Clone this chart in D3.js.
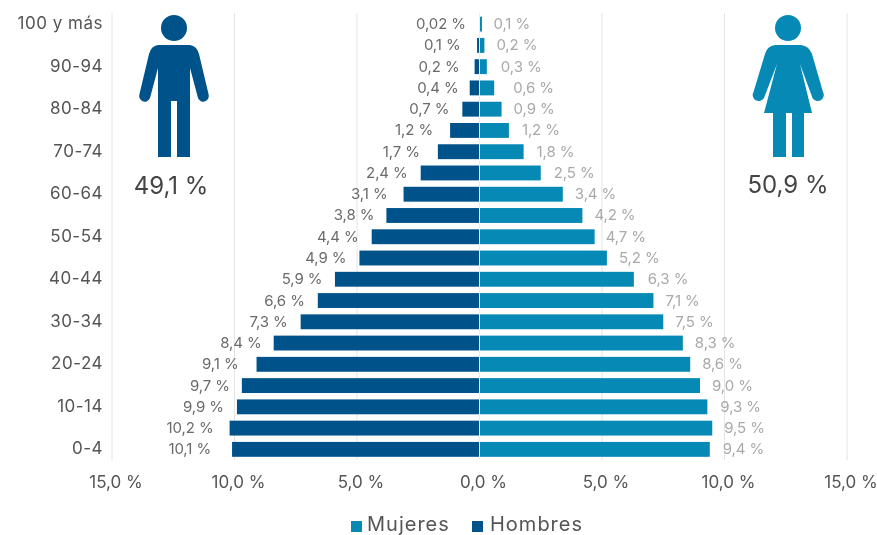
<!DOCTYPE html>
<html><head><meta charset="utf-8">
<script src="https://cdn.jsdelivr.net/npm/d3@7/dist/d3.min.js"></script>
<style>html,body{margin:0;background:#fff}svg{display:block;filter:blur(.55px)}text{font-family:Inter,"Open Sans",sans-serif}</style>
</head><body><svg id="c" width="877" height="535"></svg>
<script>
const ageGroups=["0-4","5-9","10-14","15-19","20-24","25-29","30-34","35-39","40-44","45-49","50-54","55-59","60-64","65-69","70-74","75-79","80-84","85-89","90-94","95-99","100 y más"];
const hombres=[10.1,10.2,9.9,9.7,9.1,8.4,7.3,6.6,5.9,4.9,4.4,3.8,3.1,2.4,1.7,1.2,0.7,0.4,0.2,0.1,0.02];
const mujeres=[9.4,9.5,9.3,9.0,8.6,8.3,7.5,7.1,6.3,5.2,4.7,4.2,3.4,2.5,1.8,1.2,0.9,0.6,0.3,0.2,0.1];
const ageTicks=["0-4","10-14","20-24","30-34","40-44","50-54","60-64","70-74","80-84","90-94","100 y más"];
const xTicks=[-15,-10,-5,0,5,10,15];
const totals={hombres:"49,1 %",mujeres:"50,9 %"};
// hand-placed label gaps in the original (layout only, not data)
const gapsHombres=[21,16,13,12,18,12,13,13,12.5,13,13,12,16,13,18,17,13,11,15,16.5,13];
const gapsMujeres=[13,12,13,12,12,12,12,12,14,12,11,12,12,13,13,13,12,19,14,12,11.5];
const colM="#00528a",colW="#0689b4",grey="#555";
const svg=d3.select("#c");
const x=d3.scaleLinear().domain([-15,15]).range([112,847]);
const y=d3.scaleBand().domain(ageGroups.slice().reverse()).range([13.5,460]).paddingInner(.3).paddingOuter(.15);
const fmt=v=>(v<0.1?v.toFixed(2):v.toFixed(1)).replace(".",",")+" %";
// grid
svg.append("g").selectAll("line").data(xTicks).join("line")
 .attr("x1",d=>x(d)).attr("x2",d=>x(d)).attr("y1",13).attr("y2",460)
 .attr("stroke","#e4e4e4").attr("stroke-width",1);
// bars
svg.append("g").selectAll("rect").data(hombres).join("rect")
 .attr("x",d=>x(-d)).attr("width",d=>Math.max(x(0)-x(-d),1)).attr("y",(d,i)=>y(ageGroups[i])).attr("height",y.bandwidth()).attr("fill",colM);
svg.append("g").selectAll("rect").data(mujeres).join("rect")
 .attr("x",x(0)).attr("width",d=>x(d)-x(0)).attr("y",(d,i)=>y(ageGroups[i])).attr("height",y.bandwidth()).attr("fill",colW);
svg.append("line").attr("x1",x(0)).attr("x2",x(0)).attr("y1",13).attr("y2",460).attr("stroke","#e8eef2").attr("stroke-width",1);
// value labels
const yc=i=>y(ageGroups[i])+y.bandwidth()/2+5;
svg.append("g").selectAll("text").data(hombres).join("text")
 .attr("x",(d,i)=>x(-d)-gapsHombres[i]).attr("y",(d,i)=>yc(i)).attr("text-anchor","end").attr("font-size",15).attr("letter-spacing","-.1").attr("fill","#6a6a6a").text(fmt);
svg.append("g").selectAll("text").data(mujeres).join("text")
 .attr("x",(d,i)=>x(d)+gapsMujeres[i]).attr("y",(d,i)=>yc(i)).attr("text-anchor","start").attr("font-size",15).attr("letter-spacing","-.1").attr("fill","#a9a9a9").text(fmt);
// axes
const ya=d3.axisLeft(y).tickValues(ageTicks).tickSize(0).tickPadding(0);
const gy=svg.append("g").attr("transform","translate(103,-.5)").call(ya);
gy.select(".domain").remove();
gy.selectAll("text").attr("font-size",17).attr("letter-spacing",".5").attr("fill",grey).style("font-family","Inter");
const xa=d3.axisBottom(x).tickValues(xTicks).tickSize(0).tickPadding(0).tickFormat(d=>Math.abs(d).toFixed(1).replace(".",",")+" %");
const gx=svg.append("g").attr("transform","translate(3.500,475.500)").call(xa);
gx.select(".domain").remove();
gx.selectAll("text").attr("font-size",17).attr("fill",grey).style("font-family","Inter");
// figures
const man=svg.append("g").attr("fill",colM);
man.append("circle").attr("cx",174).attr("cy",28).attr("r",13);
man.append("path").attr("d","M158 45H190Q197 46 199 54L208.500 94A5.600 5.600 0 0 1 198 98L190 68V157H177V101H171V157H158V68L150 98A5.600 5.600 0 0 1 139.500 94L149 54Q151 46 158 45Z");
const wom=svg.append("g").attr("fill",colW);
wom.append("circle").attr("cx",788).attr("cy",28).attr("r",13);
wom.append("path").attr("d","M775 45H801Q809 46 812 54L823 92A5.600 5.600 0 0 1 812.500 98L800 64L812 113H804V157H792V113H786V157H773V113H764L777 64L764 98A5.600 5.600 0 0 1 753.500 92L765 54Q767 46 775 45Z");
svg.append("text").attr("x",171).attr("y",194).attr("text-anchor","middle").attr("font-size",24).attr("fill","#444").text(totals.hombres);
svg.append("text").attr("x",788).attr("y",193).attr("text-anchor","middle").attr("font-size",24).attr("fill","#444").text(totals.mujeres);
// legend
const leg=[["Mujeres",colW,351,367],["Hombres",colM,472,490]];
leg.forEach(([t,c,sx,tx])=>{
 svg.append("rect").attr("x",sx).attr("y",521).attr("width",11).attr("height",11).attr("fill",c);
 svg.append("text").attr("x",tx).attr("y",530.500).attr("font-size",20).attr("letter-spacing","1").attr("fill",grey).text(t);
});
</script></body></html>
